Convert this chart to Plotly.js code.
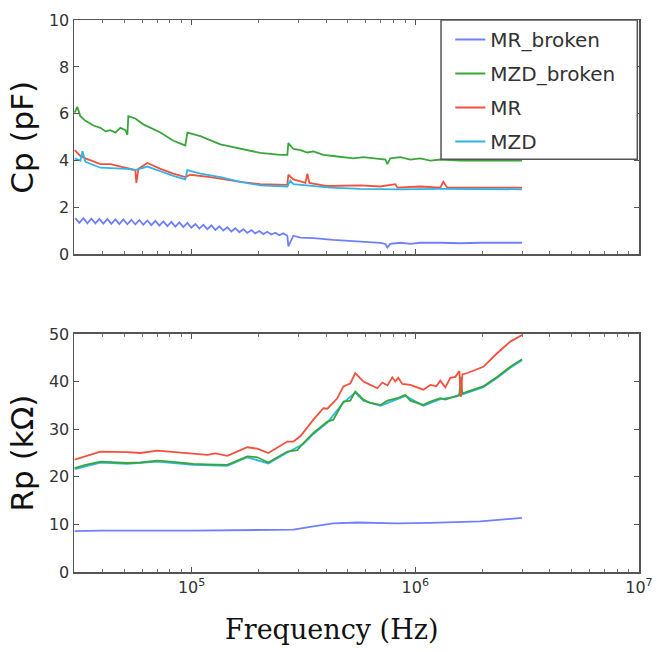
<!DOCTYPE html>
<html>
<head>
<meta charset="utf-8">
<script src="https://cdn.plot.ly/plotly-3.0.1.min.js"></script>
<style>html,body{margin:0;padding:0;background:#fff;}#chart{width:663px;height:652px;}</style>
</head>
<body>
<div id="chart"></div>
<script>
// ---- Cp panel (pF) ----
const seriesNames = ["MR_broken", "MZD_broken", "MR", "MZD"];

const cpFreqMRb = [30200,31470,32790,34170,35610,37100,38660,40290,41980,43750,45590,47500,49500,51580,53750,56010,58360,60810,63370,66030,68810,71700,74710,77850,81120,84530,88090,91790,95650,99670,103860,108220,112770,117510,122450,127600,132960,138550,144370,150440,156760,163350,170210,177360,184820,192580,200670,209100,217890,227050,236590,246530,256890,267690,270600,284900,306200,350100,430000,528000,698000,735000,750000,773000,857000,950000,1053000,1293000,1589000,1953000,3000000];
const cpMRb = [1.55,1.35,1.55,1.33,1.53,1.33,1.52,1.32,1.52,1.31,1.5,1.3,1.5,1.29,1.48,1.28,1.47,1.27,1.45,1.25,1.43,1.23,1.41,1.21,1.39,1.19,1.37,1.17,1.35,1.14,1.3,1.1,1.27,1.08,1.24,1.05,1.2,1.02,1.16,0.98,1.12,0.95,1.08,0.92,1.04,0.9,1.0,0.87,0.97,0.85,0.93,0.82,0.9,0.8,0.35,0.8,0.72,0.7,0.62,0.56,0.5,0.45,0.3,0.45,0.5,0.45,0.5,0.5,0.48,0.5,0.5];

const cpFreqMZDb = [30000,30800,31800,33500,36400,39100,41200,43300,45600,48000,50600,51600,52100,56000,60800,72500,82800,93700,95700,109400,134400,165100,202800,249200,267800,270600,284900,306200,329100,350100,388000,430000,477000,528000,586000,677000,735000,750000,773000,857000,950000,1053000,1167000,1293000,1589000,1953000,2398000,3000000];
const cpMZDb = [6.05,6.3,5.9,5.7,5.5,5.4,5.25,5.3,5.2,5.4,5.3,5.1,5.9,5.8,5.55,5.2,4.85,4.65,5.2,5.05,4.7,4.5,4.33,4.25,4.25,4.75,4.5,4.45,4.35,4.4,4.25,4.2,4.15,4.1,4.15,4.1,4.05,3.85,4.1,4.15,4.05,4.1,4.0,4.05,4.0,4.0,4.0,4.0];

const cpFreqMR = [30000,31800,33500,36400,39100,43300,48000,51600,56000,56600,57800,63400,72500,82800,93700,98700,121200,165100,202800,267800,270600,284900,322400,329100,336000,404300,568000,698000,814000,831000,1053000,1293000,1334000,1390000,1953000,3000000];
const cpMR = [4.45,4.2,4.1,3.95,3.85,3.85,3.75,3.7,3.6,3.05,3.65,3.9,3.65,3.45,3.3,3.4,3.3,3.1,3.0,2.97,3.4,3.2,3.05,3.45,3.05,2.92,2.95,2.9,3.0,2.85,2.9,2.85,3.1,2.85,2.85,2.85];

const cpFreqMZD = [30000,31800,32500,33500,39100,51600,56000,63400,72500,82800,93700,95700,109400,134400,165100,202800,267800,276200,284900,417000,568000,857000,1293000,1953000,3000000];
const cpMZD = [4.1,4.0,4.4,3.95,3.7,3.65,3.6,3.75,3.55,3.35,3.2,3.6,3.45,3.3,3.1,2.95,2.9,3.15,3.0,2.85,2.8,2.78,2.8,2.8,2.78];

// ---- Rp panel (kΩ) ----
const rpFreqMRb = [30000,39100,101800,218000,284900,350100,430000,551000,831000,1167000,1953000,3000000];
const rpMRb = [8.6,8.7,8.7,8.8,8.9,9.6,10.2,10.4,10.2,10.3,10.65,11.35];

const rpFreqMZDb = [30000,33500,39100,51600,59000,70300,80300,101800,117500,144400,177400,196700,220200,267800,296900,315800,350100,404300,430000,477000,512000,539000,586000,629000,698000,750000,831000,902000,950000,1086000,1167000,1293000,1362000,1510000,1573000,1597000,1623000,1708000,2014000,2326000,2658000,3000000];
const rpMZDb = [21.8,22.5,23.2,22.9,23.0,23.4,23.2,22.7,22.6,22.5,24.3,24.1,23.0,25.3,25.6,27.1,29.2,31.6,32.0,35.8,36.0,37.9,36.2,35.5,35.1,36.0,36.5,37.2,36.0,35.1,35.8,36.5,36.2,37.0,37.2,41.0,37.5,37.9,39.0,41.0,43.1,44.7];

const rpFreqMR = [30000,33500,39100,51600,59000,70300,80300,101800,117500,127600,144400,177400,196700,220200,267800,284900,306200,350100,388000,404300,448000,477000,512000,539000,568000,586000,629000,677000,712000,750000,789000,814000,839000,875000,950000,1022000,1086000,1167000,1242000,1293000,1362000,1434000,1510000,1573000,1597000,1623000,1708000,2014000,2326000,2658000,3000000];
const rpMR = [23.6,24.3,25.3,25.2,25.0,25.5,25.3,24.8,24.6,24.9,24.4,26.2,25.9,25.0,27.4,27.4,28.5,32.0,34.4,34.3,36.5,39.0,39.6,41.8,40.6,40.0,39.3,38.6,39.8,39.2,40.9,40.0,40.8,39.5,39.3,38.8,38.3,39.3,39.0,40.2,38.8,40.8,41.0,42.2,36.8,41.5,41.8,43.1,46.0,48.4,49.8];

const rpFreqMZD = [30000,39100,51600,70300,101800,144400,177400,220200,267800,315800,350100,404300,477000,539000,586000,698000,831000,902000,1086000,1293000,1510000,1708000,2014000,2326000,2658000,3000000];
const rpMZD = [21.6,23.0,22.7,23.2,22.5,22.3,24.1,22.8,25.1,26.9,29.0,31.4,35.6,37.7,36.0,34.9,36.3,37.0,34.9,36.3,36.8,37.7,38.8,40.8,42.9,44.5];

// ---- ticks ----
const cpTicks = [0, 2, 4, 6, 8, 10];
const rpTicks = [0, 10, 20, 30, 40, 50];
const freqTicks = [1e5, 1e6, 1e7];
const freqTickText = ["10<sup>5</sup>", "10<sup>6</sup>", "10<sup>7</sup>"];
const freqMinorTicks = [4e4,5e4,6e4,7e4,8e4,9e4,2e5,3e5,4e5,5e5,6e5,7e5,8e5,9e5,2e6,3e6,4e6,5e6,6e6,7e6,8e6,9e6];

const colors = {MR_broken: "#6f80ff", MZD_broken: "#3aa63a", MR: "#f4503e", MZD: "#2fb4e6"};
const lw = 1.8;

function tr(x, y, name, xa, ya, show, rank) {
  return {x: x, y: y, name: name, type: "scatter", mode: "lines",
    xaxis: xa, yaxis: ya, showlegend: show, legendgroup: name, legendrank: rank,
    line: {color: colors[name], width: lw}, hoverinfo: "skip"};
}

const data = [
  tr(cpFreqMRb, cpMRb, "MR_broken", "x", "y", true, 1),
  tr(cpFreqMZDb, cpMZDb, "MZD_broken", "x", "y", true, 2),
  tr(cpFreqMR, cpMR, "MR", "x", "y", true, 3),
  tr(cpFreqMZD, cpMZD, "MZD", "x", "y", true, 4),
  tr(rpFreqMRb, rpMRb, "MR_broken", "x2", "y2", false, 1),
  tr(rpFreqMZD, rpMZD, "MZD", "x2", "y2", false, 4),
  tr(rpFreqMZDb, rpMZDb, "MZD_broken", "x2", "y2", false, 2),
  tr(rpFreqMR, rpMR, "MR", "x2", "y2", false, 3)
];

const axisCol = "#555";
const tickFont = {family: "DejaVu Sans", size: 16, color: "#333"};
const xBase = {
  type: "log", range: [4.474, 7], tickmode: "array", tickvals: freqTicks, ticktext: freqTickText,
  showline: true, linecolor: axisCol, linewidth: 1.5, mirror: "ticks",
  ticks: "inside", ticklen: 5, tickcolor: axisCol, tickwidth: 1,
  minor: {ticks: "inside", ticklen: 3, tickcolor: "#777", tickwidth: 1, tickmode: "array", tickvals: freqMinorTicks, showgrid: false},
  showgrid: false, zeroline: false, tickfont: tickFont
};
const yBase = {
  showline: true, linecolor: axisCol, linewidth: 1.5, mirror: "ticks",
  ticks: "inside", ticklen: 5, tickcolor: axisCol, tickwidth: 1,
  showgrid: false, zeroline: false, tickfont: tickFont
};

const layout = {
  width: 663, height: 652, autosize: false,
  paper_bgcolor: "#fff", plot_bgcolor: "#fff",
  margin: {l: 74, r: 24, t: 20, b: 80},
  showlegend: true,
  xaxis: Object.assign({}, xBase, {domain: [0, 1], anchor: "y", showticklabels: false, matches: "x2"}),
  xaxis2: Object.assign({}, xBase, {domain: [0, 1], anchor: "y2"}),
  yaxis: Object.assign({}, yBase, {domain: [0.5752, 1], range: [0, 10], tickmode: "array", tickvals: cpTicks,
    title: {text: "Cp (pF)", font: {family: "DejaVu Sans", size: 31, color: "#111"}, standoff: 6}}),
  yaxis2: Object.assign({}, yBase, {domain: [0, 0.4312], range: [0, 50], tickmode: "array", tickvals: rpTicks,
    title: {text: "Rp (kΩ)", font: {family: "DejaVu Sans", size: 31, color: "#111"}, standoff: 6}}),
  legend: {x: 0.666, xanchor: "left", y: 1, yanchor: "top", bgcolor: "rgba(0,0,0,0)", borderwidth: 0,
    font: {family: "DejaVu Sans", size: 20, color: "#333"}, traceorder: "grouped", tracegroupgap: 5},
  shapes: [{type: "rect", xref: "paper", yref: "paper", x0: 0.6496, x1: 0.997, y0: 0.7479, y1: 1,
    fillcolor: "#fff", line: {color: "#555", width: 1.5}, layer: "above"}],
  annotations: [{text: "Frequency (Hz)", xref: "paper", yref: "paper", x: 0.455, y: -0.105,
    xanchor: "center", yanchor: "middle", showarrow: false,
    font: {family: "DejaVu Serif", size: 27, color: "#111"}}]
};

Plotly.newPlot("chart", data, layout, {displayModeBar: false, staticPlot: true});
</script>
</body>
</html>
